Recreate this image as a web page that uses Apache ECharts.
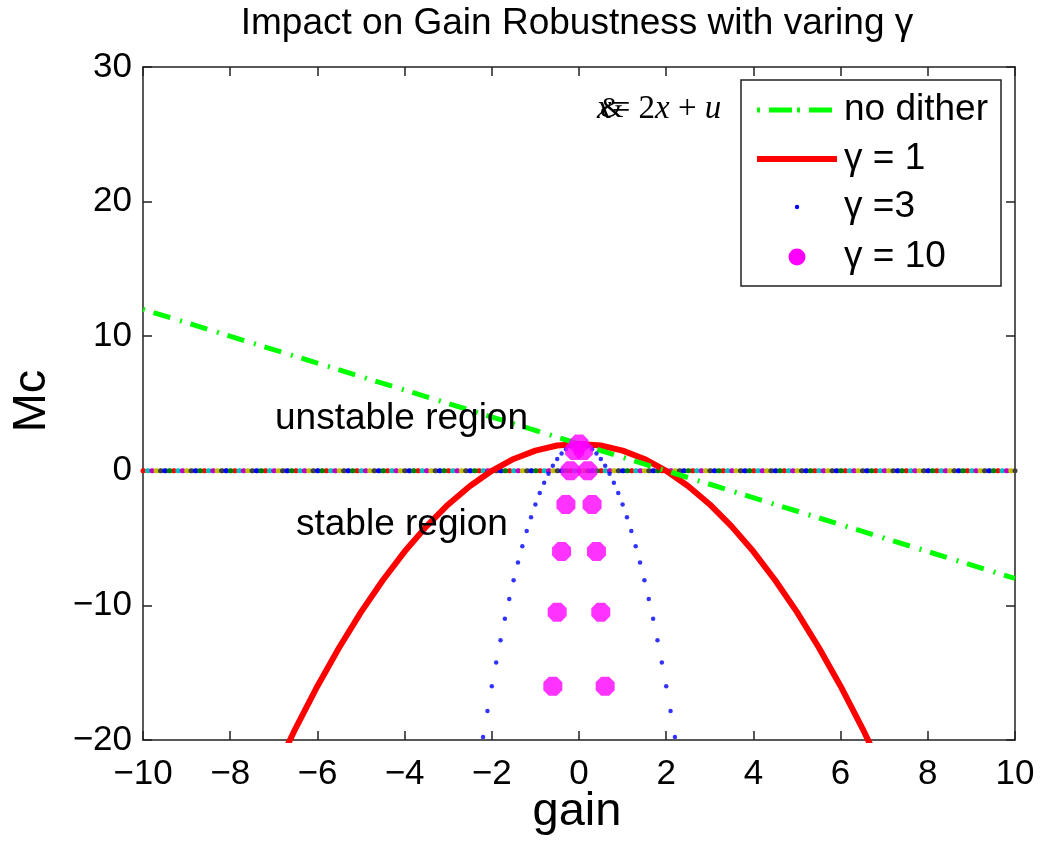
<!DOCTYPE html>
<html><head><meta charset="utf-8">
<script src="https://cdn.jsdelivr.net/npm/echarts@6/dist/echarts.min.js"></script>
<style>html,body{margin:0;padding:0;background:#fff}#c{width:1040px;height:842px}</style>
</head><body><div id="c"></div>
<script>
// ---- data ----
const titleText = 'Impact on Gain Robustness with varing γ';
const xName = 'gain';
const yName = 'Mc';
const xTicks = [-10, -8, -6, -4, -2, 0, 2, 4, 6, 8, 10];
const yTicks = [-20, -10, 0, 10, 20, 30];
const legendNames = ['no dither', 'γ = 1', 'γ =3', 'γ = 10'];
const annotUnstable = 'unstable region';
const annotStable = 'stable region';

const zeroX = [-10, 10];
const zeroY = [0, 0];

const noDitherX = [-10, 10];
const noDitherY = [12, -8];

const gamma1X = [-7, -6.5, -6, -5.5, -5, -4.5, -4, -3.5, -3, -2.5, -2, -1.5, -1, -0.5, 0, 0.5, 1, 1.5, 2, 2.5, 3, 3.5, 4, 4.5, 5, 5.5, 6, 6.5, 7];
const gamma1Y = [-22.5, -19.13, -16, -13.13, -10.5, -8.13, -6, -4.13, -2.5, -1.13, 0, 0.88, 1.5, 1.88, 2, 1.88, 1.5, 0.88, 0, -1.13, -2.5, -4.13, -6, -8.13, -10.5, -13.13, -16, -19.13, -22.5];

const gamma3X = [-2.2, -2.1, -2.0, -1.9, -1.8, -1.7, -1.6, -1.5, -1.4, -1.3, -1.2, -1.1, -1.0, -0.9, -0.8, -0.7, -0.6, -0.5, -0.4, -0.3, -0.2, -0.1, 0, 0.1, 0.2, 0.3, 0.4, 0.5, 0.6, 0.7, 0.8, 0.9, 1.0, 1.1, 1.2, 1.3, 1.4, 1.5, 1.6, 1.7, 1.8, 1.9, 2.0, 2.1, 2.2];
const gamma3Y = [-19.78, -17.85, -16, -14.25, -12.58, -11.0, -9.52, -8.13, -6.82, -5.61, -4.48, -3.45, -2.5, -1.65, -0.88, -0.21, 0.38, 0.88, 1.28, 1.6, 1.82, 1.96, 2, 1.96, 1.82, 1.6, 1.28, 0.88, 0.38, -0.21, -0.88, -1.65, -2.5, -3.45, -4.48, -5.61, -6.82, -8.13, -9.52, -11.0, -12.58, -14.25, -16, -17.85, -19.78];

const gamma10X = [-0.6, -0.5, -0.4, -0.3, -0.2, -0.1, 0, 0.1, 0.2, 0.3, 0.4, 0.5, 0.6];
const gamma10Y = [-16, -10.5, -6, -2.5, 0, 1.5, 2, 1.5, 0, -2.5, -6, -10.5, -16];

// ---- styling / layout ----
const FONT = 'Liberation Sans';
const G = { left: 143, right: 25, top: 67, bottom: 102 };
const plotW = 1040 - G.left - G.right;
const zip = (xs, ys) => xs.map((x, i) => [x, ys[i]]);
const fmt = v => (v < 0 ? '\u2212' + Math.abs(v) : String(v));
const zeroColors = ['#ff0000', '#00bfbf', '#bf00bf', '#bfbf00', '#404040', '#0000ff', '#008000'];
const pxPerUnit = plotW / (xTicks[xTicks.length - 1] - xTicks[0]);
const dotStep = 0.1 * pxPerUnit;
const period = dotStep * zeroColors.length;
const octagon = 'path://M29,0 L71,0 L100,29 L100,71 L71,100 L29,100 L0,71 L0,29 Z';

const axisCommon = {
  type: 'value',
  axisLine: { show: true, onZero: false, lineStyle: { color: '#222', width: 1.5 } },
  axisTick: { show: true, inside: true, length: 9, lineStyle: { color: '#222', width: 1.5 } },
  splitLine: { show: false },
};

const xAxisMain = Object.assign({}, axisCommon, {
  min: xTicks[0], max: xTicks[xTicks.length - 1], interval: xTicks[1] - xTicks[0],
  position: 'bottom',
  axisLabel: { show: true, fontFamily: FONT, fontSize: 35, color: '#000', margin: 17, formatter: fmt },
});
const xAxisTop = Object.assign({}, axisCommon, {
  min: xTicks[0], max: xTicks[xTicks.length - 1], interval: xTicks[1] - xTicks[0],
  position: 'top', axisLabel: { show: false },
});
const yAxisMain = Object.assign({}, axisCommon, {
  min: yTicks[0], max: yTicks[yTicks.length - 1], interval: yTicks[1] - yTicks[0],
  position: 'left',
  axisLabel: { show: true, fontFamily: FONT, fontSize: 35, color: '#000', margin: 11, formatter: fmt },
});
const yAxisRight = Object.assign({}, axisCommon, {
  min: yTicks[0], max: yTicks[yTicks.length - 1], interval: yTicks[1] - yTicks[0],
  position: 'right', axisLabel: { show: false },
});

const series = [];
zeroColors.forEach((c, k) => {
  series.push({
    type: 'line', data: zip(zeroX, zeroY), symbol: 'none', silent: true, z: 1,
    lineStyle: { color: c, width: 5, cap: 'round', type: [0.8, period - 0.8], dashOffset: k === 0 ? 0 : period - k * dotStep },
  });
});
series.push({
  name: legendNames[1], type: 'line', data: zip(gamma1X, gamma1Y), symbol: 'none', z: 3,
  lineStyle: { color: '#ff0000', width: 6 },
});
series.push({
  name: legendNames[0], type: 'line', data: zip(noDitherX, noDitherY), symbol: 'none', z: 4,
  lineStyle: { color: '#00ff00', width: 5, cap: 'butt', type: [2, 9, 17.5, 10.2] },
});
series.push({
  name: legendNames[2], type: 'scatter', data: zip(gamma3X, gamma3Y), symbol: 'circle', symbolSize: 4.5, z: 5,
  itemStyle: { color: '#0000ff' },
});
series.push({
  name: legendNames[3], type: 'scatter', data: zip(gamma10X, gamma10Y), symbol: octagon, symbolSize: 19, z: 6,
  itemStyle: { color: '#ff00ff' },
});

const txt = (x, y, text, size, extra) => ({
  type: 'text', x: x, y: y, z: 100,
  style: Object.assign({ text: text, fontFamily: FONT, fontSize: size, fill: '#000', textAlign: 'left', textVerticalAlign: 'middle' }, extra || {}),
});

const graphic = [
  txt(577, 24, titleText, 37, { textAlign: 'center' }),
  txt(577, 812, xName, 47, { textAlign: 'center' }),
  Object.assign(txt(32, 401, yName, 47, { textAlign: 'center' }), { rotation: Math.PI / 2 }),
  txt(275, 419, annotUnstable, 37),
  txt(296, 525, annotStable, 37),
  // equation text
  {
    type: 'text', x: 597, y: 109, z: 100,
    style: {
      text: '{i|x}{n|= 2}{i|x}{n| + }{i|u}', textVerticalAlign: 'middle', textAlign: 'left',
      rich: {
        i: { fontFamily: 'Liberation Serif', fontStyle: 'italic', fontSize: 33, fill: '#000' },
        n: { fontFamily: 'Liberation Serif', fontSize: 33, fill: '#000' },
      },
    },
  },
  { type: 'text', x: 600, y: 109, z: 101, style: { text: '&', fontFamily: 'Liberation Serif', fontSize: 30, fill: '#000', textVerticalAlign: 'middle' } },
  // legend box
  { type: 'rect', shape: { x: 741, y: 80, width: 260, height: 206 }, z: 90, style: { fill: '#fff', stroke: '#222', lineWidth: 1.5 } },
  { type: 'line', shape: { x1: 757, y1: 110, x2: 837, y2: 110 }, z: 95, style: { stroke: '#00ff00', lineWidth: 5, lineDash: [3, 9, 23, 5], lineCap: 'butt' } },
  { type: 'line', shape: { x1: 757, y1: 159, x2: 837, y2: 159 }, z: 95, style: { stroke: '#ff0000', lineWidth: 6 } },
  { type: 'circle', shape: { cx: 797, cy: 207, r: 2.2 }, z: 95, style: { fill: '#0000ff' } },
  { type: 'circle', shape: { cx: 797, cy: 257, r: 8.5 }, z: 95, style: { fill: '#ff00ff' } },
  txt(844, 110, legendNames[0], 37),
  txt(844, 159, legendNames[1], 37),
  txt(844, 207, legendNames[2], 37),
  txt(844, 257, legendNames[3], 37),
];

const chart = echarts.init(document.getElementById('c'), null, { renderer: 'canvas' });
chart.setOption({
  animation: false,
  backgroundColor: '#fff',
  grid: { left: G.left, right: G.right, top: G.top, bottom: G.bottom, containLabel: false },
  xAxis: [xAxisMain, xAxisTop],
  yAxis: [yAxisMain, yAxisRight],
  series: series,
  graphic: graphic,
});
</script></body></html>
